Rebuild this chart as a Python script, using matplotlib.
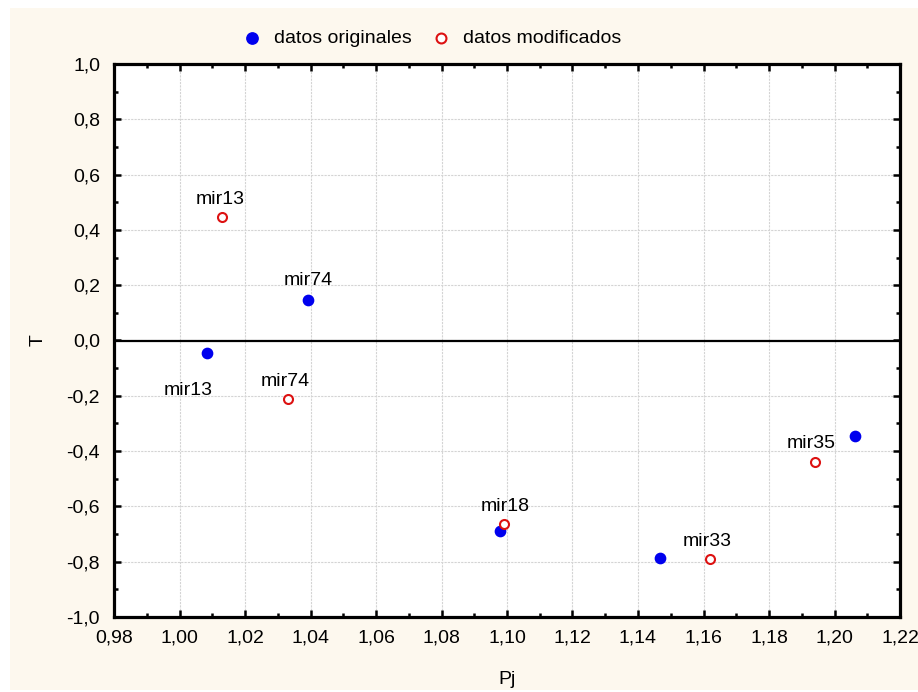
import matplotlib
matplotlib.use("Agg")
import matplotlib.pyplot as plt
from matplotlib.patches import Rectangle
from matplotlib.ticker import MultipleLocator, FuncFormatter

plt.rcParams['font.family'] = ['Liberation Sans', 'DejaVu Sans']

# datos originales
pj_orig = [1.0084, 1.0392, 1.0979, 1.1467, 1.2063]
t_orig = [-0.047, 0.148, -0.690, -0.785, -0.344]
# datos modificados
pj_mod = [1.0130, 1.0331, 1.0991, 1.1620, 1.1940]
t_mod = [0.445, -0.213, -0.662, -0.792, -0.438]

# etiquetas: (texto, x, y)
etiquetas = [
    ("mir13", 1.0124, 0.51),
    ("mir74", 1.0392, 0.217),
    ("mir13", 1.0026, -0.181),
    ("mir74", 1.0322, -0.148),
    ("mir18", 1.0994, -0.60),
    ("mir33", 1.1610, -0.727),
    ("mir35", 1.1930, -0.372),
]

fs = 14

fig = plt.figure(figsize=(9.18, 6.92), dpi=100)
fig.patch.set_facecolor('white')
fig.patches.append(Rectangle((10/918, 2/692), 908/918, 682/692, transform=fig.transFigure,
                             facecolor='#fdf8ee', edgecolor='none', zorder=-10))
ax = fig.add_axes([114/918, 75/692, 786/918, 553/692])
ax.set_facecolor('white')

ax.set_xlim(0.98, 1.22)
ax.set_ylim(-1.0, 1.0)
ax.xaxis.set_major_locator(MultipleLocator(0.02))
ax.xaxis.set_minor_locator(MultipleLocator(0.01))
ax.yaxis.set_major_locator(MultipleLocator(0.2))
ax.yaxis.set_minor_locator(MultipleLocator(0.1))
ax.xaxis.set_major_formatter(FuncFormatter(lambda v, p: f"{v:.2f}".replace('.', ',')))
ax.yaxis.set_major_formatter(FuncFormatter(lambda v, p: f"{v:.1f}".replace('.', ',').replace('-0,0', '0,0')))
ax.tick_params(which='both', direction='in', top=True, right=True, width=1.8, labelsize=fs, color='black')
ax.tick_params(which='major', length=5)
ax.tick_params(which='minor', length=3)
ax.tick_params(axis='x', which='major', pad=9)
ax.tick_params(axis='y', which='major', pad=10)
ax.grid(True, which='major', color='#d4d4d4', linestyle=(0, (2, 1)), linewidth=0.8)
for s in ax.spines.values():
    s.set_linewidth(2.3)
ax.axhline(0, color='black', linewidth=1.6)

ax.scatter(pj_orig, t_orig, s=55, color='#0000ee', zorder=3, label='datos originales')
ax.scatter(pj_mod, t_mod, s=42, facecolor='white', edgecolor='#dd1111', linewidth=1.5, zorder=3,
           label='datos modificados')
for txt, x, y in etiquetas:
    ax.text(x, y, txt, ha='center', va='center', fontsize=fs, zorder=4)

ax.set_xlabel('Pj', fontsize=fs, labelpad=18)
ax.set_ylabel('T', fontsize=fs, labelpad=14)

ax.legend(loc='center', bbox_to_anchor=(0.398, 1.047), ncol=2, frameon=False,
          fontsize=fs, handletextpad=0.15, columnspacing=0.5, markerscale=1.1)

fig.savefig('out.png', dpi=100, facecolor=fig.get_facecolor())
